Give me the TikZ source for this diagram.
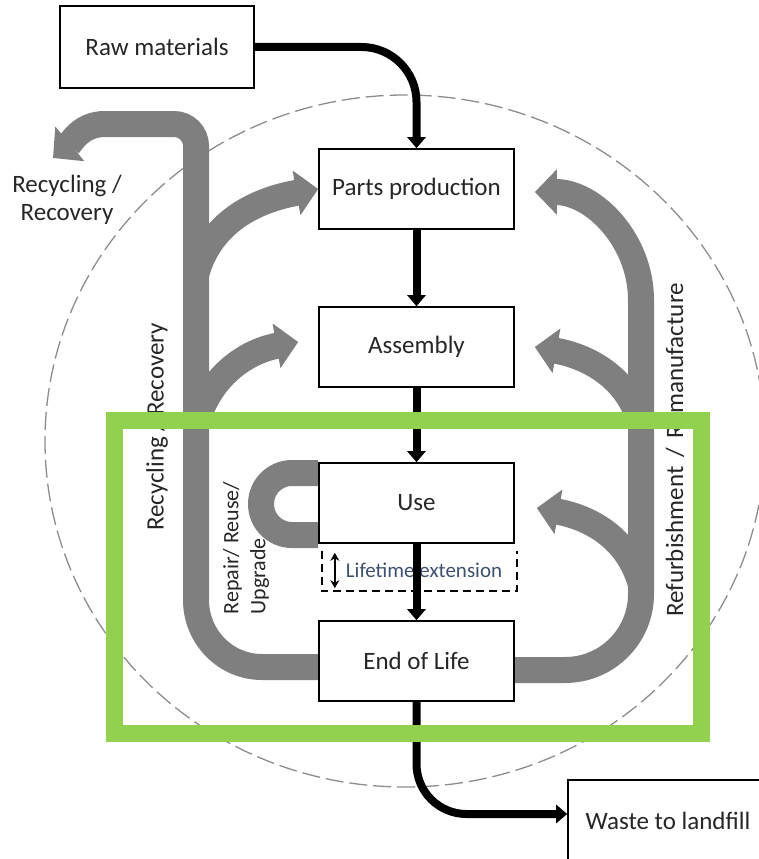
\documentclass[tikz,border=0pt]{standalone}
\usepackage{fontspec}
\setmainfont{Carlito}
\usetikzlibrary{arrows.meta,backgrounds}

\definecolor{loopgray}{RGB}{127,127,127}
\definecolor{framegreen}{RGB}{146,208,80}
\definecolor{ringgray}{RGB}{140,140,140}
\definecolor{lifeblue}{RGB}{62,80,110}

\newcommand{\mainsize}{\fontsize{25}{28}\selectfont}
\newcommand{\repairsize}{\fontsize{22}{27}\selectfont}
\newcommand{\lifesize}{\fontsize{21}{24}\selectfont}

\begin{document}
\begin{tikzpicture}[x=1pt,y=1pt,
  stage/.style={draw, line width=1.6pt, fill=white, minimum width=195pt, minimum height=80pt, font=\mainsize, text=black!85},
  flow/.style={line width=8pt, -{Triangle[length=11pt,width=18pt]}},
  loop/.style={draw=loopgray, line width=26pt},
  loophead/.style={loop, -{Triangle[length=22pt,width=44pt]}},
  sidelabel/.style={font=\mainsize, text=black!85}]
\useasboundingbox (0,0) rectangle (758,-859);

\node[stage, minimum width=194pt, minimum height=82pt] (raw) at (157,-47) {Raw materials};
\node[stage] (pp) at (416.5,-189) {Parts production};
\node[stage] (asm) at (416.5,-347) {Assembly};
\node[stage] (use) at (416.5,-503) {Use};
\node[stage] (eol) at (416.5,-661) {End of Life};
\node[stage, minimum width=200pt, minimum height=82pt] (waste) at (668,-821) {Waste to landfill};
\node[minimum width=195pt, minimum height=40pt] (life) at (419.5,-571) {};
\draw[line width=1.5pt, dash pattern=on 8pt off 5pt] (life.north west) -- (life.south west) -- (life.south east) -- (life.north east);

\begin{scope}[on background layer]
\draw[ringgray, line width=1.3pt, dash pattern=on 18pt off 6pt] (405,-441) ellipse [x radius=360pt, y radius=346pt];

\draw[loophead] ([yshift=-6pt]eol.west) -- (262,-667) to[out=180,in=-90] (196,-600) -- (196,-146)
  to[out=90,in=0] (174,-124) -- (105,-124) to[out=180,in=40] (53,-158);
\draw[loophead] (196,-275) to[out=75,in=190] (pp.west);
\draw[loophead] (196,-425) to[out=75,in=190] ([xshift=-20pt,yshift=5pt]asm.west);

\draw[loophead] ([yshift=-9pt]eol.east) -- (565,-670) to[out=0,in=-90] (641,-594) -- (641,-300)
  to[out=90,in=0] ([xshift=20pt,yshift=-3pt]pp.east);
\draw[loophead] (641,-425) to[out=105,in=-10] ([xshift=20pt]asm.east);
\draw[loophead] (641,-585) to[out=105,in=-10] ([xshift=22pt,yshift=-5pt]use.east);

\draw[loop] ([yshift=-32pt]use.west) -- (292,-535) arc[start angle=270, end angle=90, radius=31] -- ([yshift=30pt]use.west);
\end{scope}

\node[font=\lifesize, text=lifeblue] (lifetxt) at (424,-570) {Lifetime extension};
\draw[line width=1.8pt, {Stealth[length=8pt,width=9pt]}-{Stealth[length=8pt,width=9pt]}]
  ([xshift=13pt,yshift=-2pt]life.north west) -- ([xshift=13pt,yshift=3pt]life.south west);

\draw[flow, rounded corners=55pt] (raw.east) -| (pp.north);
\draw[flow] (pp) -- (asm);
\draw[flow] (asm) -- (use);
\draw[flow] (use) -- (eol);
\draw[flow, rounded corners=50pt] (eol.south) |- ([yshift=7pt]waste.west);

\node[sidelabel, align=center] (reclab) at (67,-200) {Recycling /\\Recovery};
\node[sidelabel, rotate=90] (recside) at (157,-427) {Recycling / Recovery};
\node[sidelabel, rotate=90] (refside) at (675,-450) {Refurbishment\hspace{9pt}/\hspace{9pt}Remanufacture};
\node[font=\repairsize, text=black!85, rotate=90, align=left] (repair) at (246,-548) {Repair/ Reuse/\\Upgrade};

\draw[framegreen, line width=17pt] (114,-420) rectangle (701,-733);
\end{tikzpicture}
\end{document}
